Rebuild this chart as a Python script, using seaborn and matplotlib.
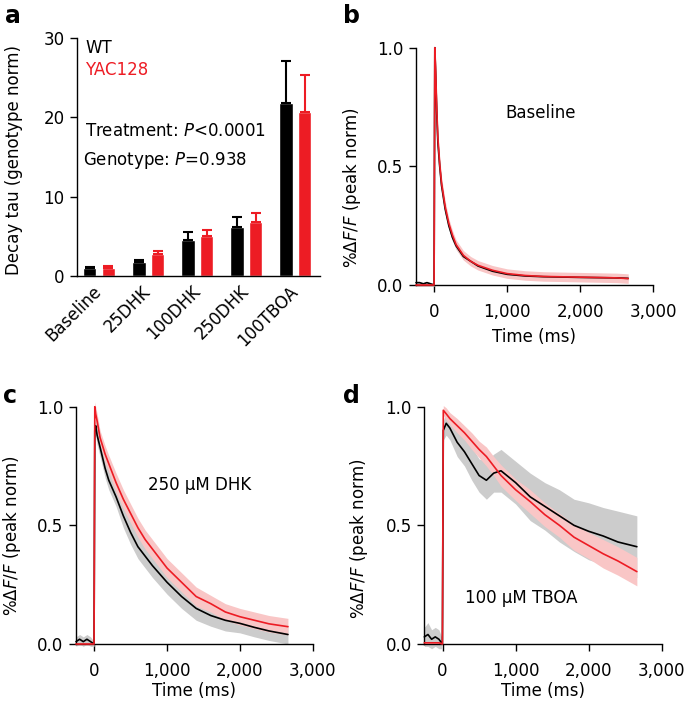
import numpy as np
import pandas as pd
import matplotlib
matplotlib.use("Agg")
import matplotlib.pyplot as plt
import seaborn as sns

# ---------------- data ----------------
treatments = ["Baseline", "25DHK", "100DHK", "250DHK", "100TBOA"]
wt_tau = [1.0, 1.8, 4.5, 6.2, 21.8]
yac_tau = [1.05, 2.8, 5.0, 6.8, 20.7]
wt_sem = [0.15, 0.2, 1.1, 1.3, 5.3]
yac_sem = [0.15, 0.4, 0.8, 1.1, 4.6]
y_ticks_a = [0, 10, 20, 30]

x_ticks = [0, 1000, 2000, 3000]
x_ticklabels = ["0", "1,000", "2,000", "3,000"]
y_ticks = [0, 0.5, 1.0]
y_ticklabels = ["0.0", "0.5", "1.0"]

# panel b: baseline
t_b = [-250, -200, -150, -100, -50, -2, 8, 20, 35, 50, 75, 100, 150, 200, 250,
       300, 400, 500, 600, 800, 1000, 1250, 1500, 2000, 2500, 2660]
wt_b = [0.01, 0.01, 0.005, 0.01, 0.005, 0.0, 1.0, 0.88, 0.72, 0.6, 0.5, 0.42, 0.32,
        0.25, 0.2, 0.165, 0.12, 0.1, 0.08, 0.058, 0.045, 0.038, 0.035, 0.032, 0.03, 0.028]
yac_b = [0.0, 0.0, 0.0, 0.0, 0.0, 0.0, 1.0, 0.9, 0.74, 0.62, 0.51, 0.43, 0.33,
         0.26, 0.21, 0.17, 0.125, 0.1, 0.083, 0.062, 0.048, 0.04, 0.036, 0.033, 0.03, 0.027]
wt_b_sem = [0.005, 0.005, 0.005, 0.005, 0.005, 0.005, 0.01, 0.02, 0.02, 0.02, 0.02, 0.02, 0.02,
            0.015, 0.015, 0.015, 0.012, 0.012, 0.012, 0.01, 0.01, 0.01, 0.01, 0.01, 0.01, 0.01]
yac_b_sem = [0.005, 0.005, 0.005, 0.005, 0.005, 0.005, 0.01, 0.03, 0.03, 0.03, 0.03, 0.025, 0.025,
             0.02, 0.02, 0.02, 0.02, 0.02, 0.02, 0.02, 0.02, 0.02, 0.02, 0.02, 0.02, 0.02]

# panel c: 250 uM DHK
t_c = [-250, -200, -150, -100, -50, -2, 8, 20, 40, 80, 150, 200, 300, 400, 500, 600, 700,
       800, 1000, 1200, 1400, 1600, 1800, 2000, 2200, 2400, 2660]
wt_c = [0.01, 0.02, 0.01, 0.02, 0.01, 0.0, 0.9, 0.92, 0.88, 0.83, 0.74, 0.69, 0.62, 0.54,
        0.47, 0.41, 0.37, 0.33, 0.26, 0.2, 0.15, 0.12, 0.1, 0.087, 0.07, 0.055, 0.04]
yac_c = [0.0, 0.0, 0.0, 0.0, 0.0, 0.0, 1.0, 0.97, 0.94, 0.87, 0.8, 0.76, 0.68, 0.61,
         0.55, 0.49, 0.44, 0.4, 0.32, 0.26, 0.2, 0.17, 0.135, 0.115, 0.1, 0.085, 0.073]
wt_c_sem = [0.02, 0.02, 0.02, 0.02, 0.02, 0.01, 0.03, 0.04, 0.04, 0.04, 0.04, 0.04, 0.04, 0.05,
            0.05, 0.05, 0.05, 0.05, 0.05, 0.05, 0.05, 0.045, 0.045, 0.04, 0.04, 0.04, 0.04]
yac_c_sem = [0.005, 0.005, 0.005, 0.005, 0.005, 0.005, 0.02, 0.03, 0.03, 0.03, 0.035, 0.035, 0.04,
             0.04, 0.04, 0.04, 0.04, 0.04, 0.04, 0.04, 0.04, 0.035, 0.035, 0.035, 0.035, 0.035, 0.035]

# panel d: 100 uM TBOA
t_d = [-250, -200, -150, -100, -50, -2, 10, 50, 100, 200, 300, 400, 500, 600, 700, 800,
       1000, 1200, 1400, 1600, 1800, 2000, 2200, 2400, 2660]
wt_d = [0.03, 0.04, 0.02, 0.03, 0.02, 0.0, 0.9, 0.93, 0.91, 0.85, 0.81, 0.76, 0.71, 0.69,
        0.72, 0.73, 0.68, 0.62, 0.58, 0.54, 0.5, 0.475, 0.455, 0.43, 0.41]
yac_d = [0.005, 0.005, 0.005, 0.005, 0.005, 0.0, 0.985, 0.97, 0.95, 0.92, 0.89, 0.855, 0.82,
         0.79, 0.75, 0.71, 0.65, 0.6, 0.545, 0.5, 0.45, 0.415, 0.38, 0.35, 0.305]
wt_d_sem = [0.04, 0.05, 0.04, 0.04, 0.04, 0.02, 0.04, 0.05, 0.05, 0.06, 0.06, 0.07, 0.07, 0.08,
            0.08, 0.09, 0.09, 0.1, 0.1, 0.11, 0.11, 0.12, 0.12, 0.13, 0.13]
yac_d_sem = [0.005, 0.005, 0.005, 0.005, 0.005, 0.005, 0.02, 0.025, 0.025, 0.03, 0.03, 0.035, 0.035,
             0.04, 0.04, 0.045, 0.045, 0.05, 0.05, 0.05, 0.055, 0.055, 0.06, 0.06, 0.06]

BLACK = "#000000"
RED = "#ed1c24"
GRAY_BAND = "#cccccc"
PINK_BAND = "#f9c6c6"

# ---------------- style ----------------
sns.set_style("ticks")
plt.rcParams["font.family"] = ["DejaVu Sans"]
plt.rcParams["mathtext.fontset"] = "dejavusans"
plt.rcParams["font.size"] = 12
plt.rcParams["text.color"] = "black"
plt.rcParams["axes.labelcolor"] = "black"
plt.rcParams["axes.linewidth"] = 1.0
plt.rcParams["xtick.major.size"] = 5
plt.rcParams["ytick.major.size"] = 5
plt.rcParams["xtick.major.width"] = 1.0
plt.rcParams["ytick.major.width"] = 1.0
plt.rcParams["xtick.labelsize"] = 12
plt.rcParams["ytick.labelsize"] = 12
plt.rcParams["axes.labelsize"] = 12
plt.rcParams["axes.edgecolor"] = "black"
plt.rcParams["xtick.color"] = "black"
plt.rcParams["ytick.color"] = "black"
plt.rcParams["xtick.labelcolor"] = "black"
plt.rcParams["ytick.labelcolor"] = "black"

W, H = 685, 708
fig = plt.figure(figsize=(W / 100, H / 100), dpi=100)


def add_ax(left, right, top, bottom):
    return fig.add_axes([left / W, 1 - bottom / H, (right - left) / W, (bottom - top) / H])


# ---------------- panel a ----------------
ax_a = add_ax(77, 320, 38, 276)
df_a = pd.DataFrame({
    "treatment": treatments * 2,
    "genotype": ["WT"] * len(treatments) + ["YAC128"] * len(treatments),
    "tau": wt_tau + yac_tau,
})
sns.barplot(data=df_a, x="treatment", y="tau", hue="genotype", order=treatments,
            hue_order=["WT", "YAC128"], palette=[BLACK, RED], width=0.76, gap=0.28,
            errorbar=None, legend=False, saturation=1, ax=ax_a)
for cont, sems, col in zip(ax_a.containers, [wt_sem, yac_sem], [BLACK, RED]):
    for bar, s in zip(cont, sems):
        xc = bar.get_x() + bar.get_width() / 2
        h = bar.get_height()
        ax_a.errorbar([xc], [h], yerr=[[0], [s]], fmt="none", ecolor=col,
                      elinewidth=1.5, capsize=3.5, capthick=1.5, zorder=1)
ax_a.set_xlim(-0.45, 4.5)
ax_a.set_ylim(0, 30)
ax_a.set_yticks(y_ticks_a)
ax_a.set_xlabel("")
ax_a.set_ylabel("Decay tau (genotype norm)")
ax_a.yaxis.set_label_coords(-0.222, 0.487)
ax_a.tick_params(axis="x", length=0, pad=9)
ax_a.tick_params(axis="y", pad=4)
for lab in ax_a.get_xticklabels():
    lab.set_rotation(45)
    lab.set_ha("right")
    lab.set_va("center")
    lab.set_rotation_mode("anchor")
sns.despine(ax=ax_a)
ax_a.text(0.033, 0.96, "WT", color=BLACK, transform=ax_a.transAxes, va="center", ha="left")
ax_a.text(0.033, 0.865, "YAC128", color=RED, transform=ax_a.transAxes, va="center", ha="left")
ax_a.text(0.033, 0.61, r"Treatment: $P$<0.0001", transform=ax_a.transAxes, va="center", ha="left")
ax_a.text(0.025, 0.487, r"Genotype: $P$=0.938", transform=ax_a.transAxes, va="center", ha="left")


# ---------------- trace panels ----------------
def trace_panel(ax, t, wt, wt_s, yac, yac_s, label, label_xy, xlab_y, ylab_xy):
    t = np.asarray(t, float)
    wt = np.asarray(wt, float); wt_s = np.asarray(wt_s, float)
    yac = np.asarray(yac, float); yac_s = np.asarray(yac_s, float)
    ax.fill_between(t, wt - wt_s, wt + wt_s, color=GRAY_BAND, lw=0, zorder=1, clip_on=False)
    ax.fill_between(t, yac - yac_s, yac + yac_s, color=PINK_BAND, lw=0, zorder=2, clip_on=False)
    df = pd.DataFrame({"t": np.concatenate([t, t]),
                       "v": np.concatenate([wt, yac]),
                       "g": ["WT"] * len(t) + ["YAC128"] * len(t)})
    sns.lineplot(data=df[df.g == "WT"], x="t", y="v", color=BLACK, lw=1.2,
                 estimator=None, sort=False, ax=ax, zorder=3, clip_on=False)
    sns.lineplot(data=df[df.g == "YAC128"], x="t", y="v", color=RED, lw=1.2,
                 estimator=None, sort=False, ax=ax, zorder=4, clip_on=False)
    ax.set_xlim(-250, 3000)
    ax.set_ylim(0, 1.0)
    ax.set_xticks(x_ticks)
    ax.set_xticklabels(x_ticklabels)
    ax.set_yticks(y_ticks)
    ax.set_yticklabels(y_ticklabels)
    ax.tick_params(axis="x", pad=8)
    ax.tick_params(axis="y", pad=4)
    sns.despine(ax=ax)
    ax.set_xlabel("Time (ms)")
    ax.set_ylabel(r"%$\Delta F/F$ (peak norm)")
    ax.xaxis.set_label_coords(0.5, xlab_y)
    ax.yaxis.set_label_coords(*ylab_xy)
    ax.text(label_xy[0], label_xy[1], label, ha="left", va="center")


ax_b = add_ax(416, 653, 47.7, 285)
trace_panel(ax_b, t_b, wt_b, wt_b_sem, yac_b, yac_b_sem, "Baseline", (971, 0.723), -0.181, (-0.224, 0.411))
ax_c = add_ax(76, 312.7, 406.7, 644)
trace_panel(ax_c, t_c, wt_c, wt_c_sem, yac_c, yac_c_sem, "250 \u03bcM DHK", (743, 0.67), -0.160, (-0.222, 0.455))
ax_d = add_ax(424.3, 661.7, 406.7, 644)
trace_panel(ax_d, t_d, wt_d, wt_d_sem, yac_d, yac_d_sem, "100 \u03bcM TBOA", (311, 0.194), -0.160, (-0.229, 0.442))

# panel letters
for letter, (px, py) in {"a": (5, 16), "b": (343, 16), "c": (3, 396), "d": (343, 396)}.items():
    fig.text(px / W, 1 - py / H, letter, fontsize=17, fontweight="bold", ha="left", va="center",
             color="black")

fig.savefig("out.png", dpi=100)
